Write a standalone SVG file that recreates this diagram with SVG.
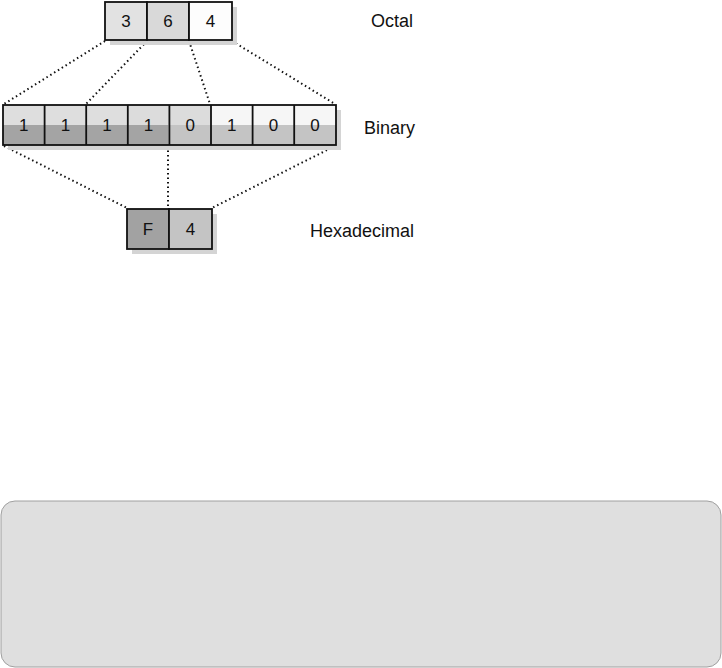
<svg xmlns="http://www.w3.org/2000/svg" width="722" height="668" viewBox="0 0 722 668">
<style>
.cell{stroke:#111;stroke-width:1.8}
.sh{fill:#d4d4d4}
.t{font-family:"Liberation Sans",Arial,sans-serif;font-size:17px;fill:#111;text-anchor:middle}
.lbl{font-family:"Liberation Sans",Arial,sans-serif;font-size:18px;fill:#111}
.dot{stroke:#111;stroke-width:2;stroke-dasharray:1.5 3;fill:none}
</style>
<rect x="1" y="501" width="720" height="166" rx="14" fill="#dfdfdf" stroke="#a0a0a0" stroke-width="1"/>
<g id="connectors">
<line class="dot" x1="105" y1="41" x2="4" y2="104"/>
<line class="dot" x1="147" y1="41" x2="86" y2="104"/>
<line class="dot" x1="189" y1="41" x2="210" y2="104"/>
<line class="dot" x1="232" y1="41" x2="335" y2="104"/>
<line class="dot" x1="4" y1="146" x2="127" y2="208"/>
<line class="dot" x1="168" y1="146" x2="168" y2="208"/>
<line class="dot" x1="335" y1="146" x2="212" y2="208"/>
</g>
<g id="octal">
<rect class="sh" x="110" y="7" width="127" height="38"/>
<rect class="cell" x="105" y="2" width="42" height="38" fill="#e2e2e2"/>
<rect class="cell" x="147" y="2" width="42" height="38" fill="#d9d9d9"/>
<rect class="cell" x="189" y="2" width="43" height="38" fill="#fdfdfd"/>
<text class="t" x="126" y="27">3</text>
<text class="t" x="168" y="27">6</text>
<text class="t" x="210.5" y="27">4</text>
</g>
<g id="binary">
<rect class="sh" x="8" y="110" width="333" height="40"/>
<rect x="3" y="105" width="124" height="20" fill="#dedede"/>
<rect x="3" y="125" width="165" height="20" fill="#a4a4a4"/>
<rect x="127" y="105" width="84" height="20" fill="#dcdcdc"/>
<rect x="211" y="105" width="125" height="20" fill="#f6f6f6"/>
<rect x="168" y="125" width="168" height="20" fill="#c4c4c4"/>
<g fill="none" class="cell">
<rect x="3" y="105" width="333" height="40"/>
<line x1="44.6" y1="105" x2="44.6" y2="145"/>
<line x1="86.2" y1="105" x2="86.2" y2="145"/>
<line x1="127.8" y1="105" x2="127.8" y2="145"/>
<line x1="169.4" y1="105" x2="169.4" y2="145"/>
<line x1="211" y1="105" x2="211" y2="145"/>
<line x1="252.6" y1="105" x2="252.6" y2="145"/>
<line x1="294.2" y1="105" x2="294.2" y2="145"/>
</g>
<text class="t" x="23.8" y="131">1</text>
<text class="t" x="65.4" y="131">1</text>
<text class="t" x="107" y="131">1</text>
<text class="t" x="148.6" y="131">1</text>
<text class="t" x="190.2" y="131">0</text>
<text class="t" x="231.8" y="131">1</text>
<text class="t" x="273.4" y="131">0</text>
<text class="t" x="315" y="131">0</text>
</g>
<g id="hex">
<rect class="sh" x="132" y="214" width="85" height="40"/>
<rect class="cell" x="127" y="209" width="42" height="40" fill="#a2a2a2"/>
<rect class="cell" x="169" y="209" width="43" height="40" fill="#c4c4c4"/>
<text class="t" x="148" y="235">F</text>
<text class="t" x="190.5" y="235">4</text>
</g>
<g id="labels">
<text class="lbl" x="371" y="27">Octal</text>
<text class="lbl" x="364" y="134">Binary</text>
<text class="lbl" x="310" y="237">Hexadecimal</text>
</g>
</svg>
